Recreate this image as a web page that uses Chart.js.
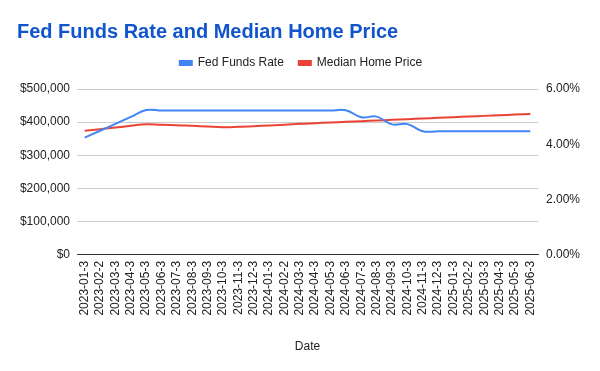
<!DOCTYPE html>
<html>
<head>
<meta charset="utf-8">
<script src="https://cdn.jsdelivr.net/npm/chart.js@4/dist/chart.umd.min.js"></script>
<style>
  html, body { margin: 0; padding: 0; background: #fff; }
  #wrap { width: 600px; height: 371px; }
</style>
</head>
<body>
<div id="wrap"><canvas id="myChart" width="600" height="371"></canvas></div>
<script>
// data
var dates = [
  "2023-01-3", "2023-02-2", "2023-03-3", "2023-04-3", "2023-05-3", "2023-06-3",
  "2023-07-3", "2023-08-3", "2023-09-3", "2023-10-3", "2023-11-3", "2023-12-3",
  "2024-01-3", "2024-02-2", "2024-03-3", "2024-04-3", "2024-05-3", "2024-06-3",
  "2024-07-3", "2024-08-3", "2024-09-3", "2024-10-3", "2024-11-3", "2024-12-3",
  "2025-01-3", "2025-02-2", "2025-03-3", "2025-04-3", "2025-05-3", "2025-06-3"
];
var fedFundsRate = [
  4.24, 4.49, 4.74, 4.99, 5.24, 5.22,
  5.22, 5.22, 5.22, 5.22, 5.22, 5.22,
  5.22, 5.22, 5.22, 5.22, 5.22, 5.23,
  4.98, 5.0, 4.72, 4.73, 4.47, 4.47,
  4.47, 4.47, 4.47, 4.47, 4.47, 4.47
];
var medianHomePrice = [
  374000, 379000, 384000, 389000, 394000, 392000,
  391000, 389000, 387000, 385000, 386000, 388000,
  390000, 392000, 395000, 397000, 399000, 401000,
  403000, 405000, 407000, 409000, 411000, 413000,
  415000, 417000, 419000, 421000, 423000, 425000
];
var priceTicks = [0, 100000, 200000, 300000, 400000, 500000];
var rateTicks = [0, 2, 4, 6];

var font = "Arial, 'Liberation Sans', sans-serif";
Chart.defaults.font.family = font;
Chart.defaults.color = "#222";

// a bit more room under the legend
var legendSpacer = {
  id: "legendSpacer",
  afterInit: function (chart) {
    var fitLegend = chart.legend.fit;
    chart.legend.fit = function () {
      fitLegend.call(this);
      this.height += 10;
    };
  },
};

var ctx = document.getElementById("myChart").getContext("2d");
var chart = new Chart(ctx, {
  type: "line",
  plugins: [legendSpacer],
  data: {
    labels: dates,
    datasets: [
      {
        label: "Fed Funds Rate",
        data: fedFundsRate,
        yAxisID: "y1",
        borderColor: "#4285f4",
        backgroundColor: "#4285f4",
        borderWidth: 2,
        pointRadius: 0,
        tension: 0.4,
      },
      {
        label: "Median Home Price",
        data: medianHomePrice,
        yAxisID: "y",
        borderColor: "#ea4335",
        backgroundColor: "#ea4335",
        borderWidth: 2,
        pointRadius: 0,
        tension: 0.4,
      },
    ],
  },
  options: {
    responsive: false,
    animation: false,
    layout: { padding: { left: 17, right: 15, top: 0, bottom: 13 } },
    plugins: {
      title: {
        display: true,
        text: "Fed Funds Rate and Median Home Price",
        align: "start",
        color: "#1155cc",
        font: { size: 20, weight: "bold", lineHeight: 1 },
        padding: { top: 22, bottom: 0 },
      },
      legend: {
        display: true,
        labels: {
          boxWidth: 12,
          boxHeight: 4,
          padding: 15,
          color: "#222",
          font: { size: 12 },
        },
      },
      tooltip: { enabled: false },
    },
    scales: {
      x: {
        offset: true,
        grid: { display: false, drawTicks: false },
        border: { display: true, color: "#333", width: 1 },
        ticks: {
          autoSkip: false,
          maxRotation: 90,
          minRotation: 90,
          padding: 6,
          font: { size: 12 },
          color: "#222",
        },
        title: {
          display: true,
          text: "Date",
          font: { size: 12 },
          color: "#222",
          padding: { top: 18 },
        },
      },
      y: {
        position: "left",
        min: 0,
        max: 500000,
        afterBuildTicks: function (axis) {
          axis.ticks = priceTicks.map(function (v) { return { value: v }; });
        },
        afterFit: function (axis) { axis.width = 60; },
        grid: { color: "#ccc", drawTicks: false },
        border: { display: false },
        ticks: {
          padding: 7,
          font: { size: 12 },
          color: "#222",
          callback: function (v) { return "$" + v.toLocaleString("en-US"); },
        },
      },
      y1: {
        position: "right",
        min: 0,
        max: 6,
        afterBuildTicks: function (axis) {
          axis.ticks = rateTicks.map(function (v) { return { value: v }; });
        },
        afterFit: function (axis) { axis.width = 47; },
        grid: { display: false, drawTicks: false },
        border: { display: false },
        ticks: {
          padding: 8,
          font: { size: 12 },
          color: "#222",
          callback: function (v) { return v.toFixed(2) + "%"; },
        },
      },
    },
  },
});
</script>
</body>
</html>
